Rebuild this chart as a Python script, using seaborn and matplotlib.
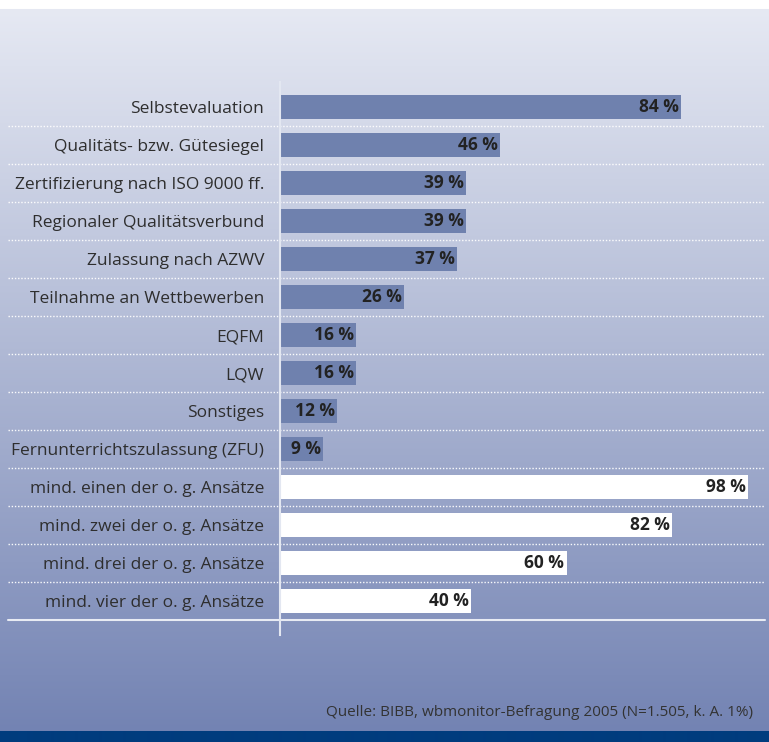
import numpy as np
import pandas as pd
import matplotlib
matplotlib.use("Agg")
import matplotlib.pyplot as plt
import seaborn as sns

# data
categories = [
    "Selbstevaluation",
    "Qualitäts- bzw. Gütesiegel",
    "Zertifizierung nach ISO 9000 ff.",
    "Regionaler Qualitätsverbund",
    "Zulassung nach AZWV",
    "Teilnahme an Wettbewerben",
    "EQFM",
    "LQW",
    "Sonstiges",
    "Fernunterrichtszulassung (ZFU)",
    "mind. einen der o. g. Ansätze",
    "mind. zwei der o. g. Ansätze",
    "mind. drei der o. g. Ansätze",
    "mind. vier der o. g. Ansätze",
]
values = [84, 46, 39, 39, 37, 26, 16, 16, 12, 9, 98, 82, 60, 40]
is_summary = [False] * 10 + [True] * 4
source = "Quelle: BIBB, wbmonitor-Befragung 2005 (N=1.505, k. A. 1%)"

df = pd.DataFrame({"Ansatz": categories, "Anteil": values})
bar_blue = "#6f81ae"
palette = {c: ("#ffffff" if s else bar_blue) for c, s in zip(categories, is_summary)}

sns.set_style("white")
plt.rcParams["font.family"] = ["Open Sans", "DejaVu Sans"]

W, H = 769, 742
fig = plt.figure(figsize=(W / 100, H / 100), dpi=100)

# background: white strip on top, vertical gradient, dark blue band at the bottom
bg = fig.add_axes([0, 0, 1, 1], zorder=-10)
bg.set_axis_off()
top = np.array([0xe6, 0xe9, 0xf3]) / 255
bot = np.array([0x73, 0x83, 0xb3]) / 255
rows = np.arange(H)
img = np.ones((H, 1, 3))
grad = (rows >= 9) & (rows < 731)
t = (rows[grad] - 9) / (731 - 9)
img[grad, 0, :] = top[None, :] * (1 - t[:, None]) + bot[None, :] * t[:, None]
img[rows >= 731, 0, :] = np.array([0x00, 0x3c, 0x7e]) / 255
bg.imshow(img, aspect="auto", extent=[0, 1, 0, 1], interpolation="bilinear")
bg.set_xlim(0, 1)
bg.set_ylim(0, 1)

# main axes: left spine at x=280px, 100 % at ~757px
px_per_pct = 4.775
x0, x1 = 280, 765
y_top, y_bot = 82, 635
ax = fig.add_axes([x0 / W, 1 - y_bot / H, (x1 - x0) / W, (y_bot - y_top) / H])
ax.patch.set_alpha(0)

sns.barplot(data=df, x="Anteil", y="Ansatz", hue="Ansatz", palette=palette,
            legend=False, width=0.63, orient="h", saturation=1, ax=ax, linewidth=0)

row_h = 38
ax.set_ylim(13 + (y_bot - 601) / row_h, -(107 - y_top) / row_h)
ax.set_xlim(0, (x1 - x0) / px_per_pct)

for s in ["top", "right", "bottom"]:
    ax.spines[s].set_visible(False)
ax.spines["left"].set_color("#e3e7f1")
ax.spines["left"].set_linewidth(1.5)
ax.set_xticks([])
ax.set_xlabel("")
ax.set_ylabel("")
ax.tick_params(axis="y", left=False, pad=8, labelsize=12.5, labelcolor="#2e2e2e")

# separators
xl = (8 - x0) / (x1 - x0)
trans = ax.get_yaxis_transform()
for i in range(len(categories) - 1):
    ax.plot([xl, 1], [i + 0.5, i + 0.5], transform=trans, clip_on=False,
            color="white", lw=1.0, ls=(0, (1, 1.3)), alpha=0.95)
ax.plot([xl, 1], [len(categories) - 0.5] * 2, transform=trans, clip_on=False,
        color="#e8ebf3", lw=1.5)

# value labels
for i, v in enumerate(values):
    ax.text(v - 0.45, i, f"{v} %", ha="right", va="center", fontsize=12.5,
            fontweight="bold", color="#222222")

fig.text(753 / W, 1 - 713 / H, source, ha="right", va="center",
         fontsize=11, color="#333333")

fig.savefig("out.png", dpi=100)
